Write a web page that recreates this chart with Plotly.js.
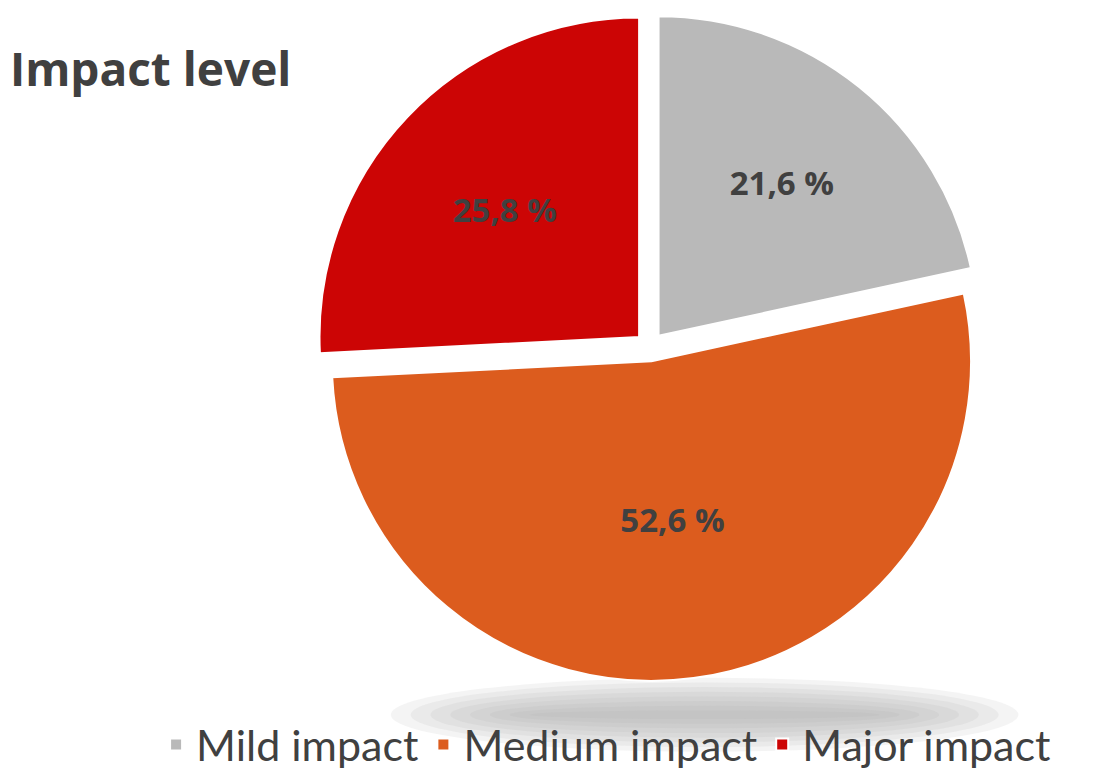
<!DOCTYPE html>
<html>
<head>
<meta charset="utf-8">
<script src="https://cdn.plot.ly/plotly-3.0.1.min.js"></script>
<style>html,body{margin:0;padding:0;background:#fff;}#chart{width:1101px;height:779px;}</style>
</head>
<body>
<div id="chart"></div>
<script>
const categories = ["Mild impact", "Medium impact", "Major impact"];
const shares = [21.6, 52.6, 25.8];
const sliceColors = ["#b9b9b9", "#dc5c1e", "#cc0505"];
const chartTitle = "Impact level";

const trace = {
  type: "pie",
  labels: categories,
  values: shares,
  sort: false,
  direction: "clockwise",
  rotation: 0,
  pull: [0.045, 0.045, 0.045],
  marker: { colors: sliceColors, line: { color: "#ffffff", width: 2 } },
  texttemplate: "%{value:.1f} %",
  textposition: "inside",
  insidetextorientation: "horizontal",
  textfont: { family: "Open Sans, sans-serif", size: 33, color: "#404040", weight: "bold" },
  hoverinfo: "label+value",
  domain: { x: [0.2866, 0.8933], y: [0.1258, 0.9833] }
};

const shadowLayers = [];
for (let i = 0; i < 8; i++) {
  const shrinkX = i * 0.018, shrinkY = i * 0.006;
  shadowLayers.push({
    type: "circle", xref: "paper", yref: "paper",
    x0: 0.355 + shrinkX, x1: 0.925 - shrinkX,
    y0: 0.035 + shrinkY, y1: 0.13 - shrinkY,
    fillcolor: "rgba(170,170,170,0.13)", line: { width: 0 }, layer: "below"
  });
}

const layout = {
  width: 1101,
  height: 779,
  separators: ", ",
  margin: { l: 0, r: 0, t: 0, b: 0 },
  paper_bgcolor: "#ffffff",
  title: {
    text: "<b>" + chartTitle + "</b>",
    x: 0.009, xanchor: "left", y: 0.91, yanchor: "middle",
    font: { family: "Open Sans, sans-serif", size: 46, color: "#404040" }
  },
  showlegend: true,
  legend: {
    orientation: "h",
    x: 0.5505, xanchor: "center",
    y: 0.0, yanchor: "bottom",
    font: { family: "Lato, sans-serif", size: 43, color: "#404040" },
    traceorder: "normal",
    bgcolor: "rgba(0,0,0,0)"
  },
  shapes: shadowLayers
};

Plotly.newPlot("chart", [trace], layout, { displayModeBar: false, responsive: false });
</script>
</body>
</html>
